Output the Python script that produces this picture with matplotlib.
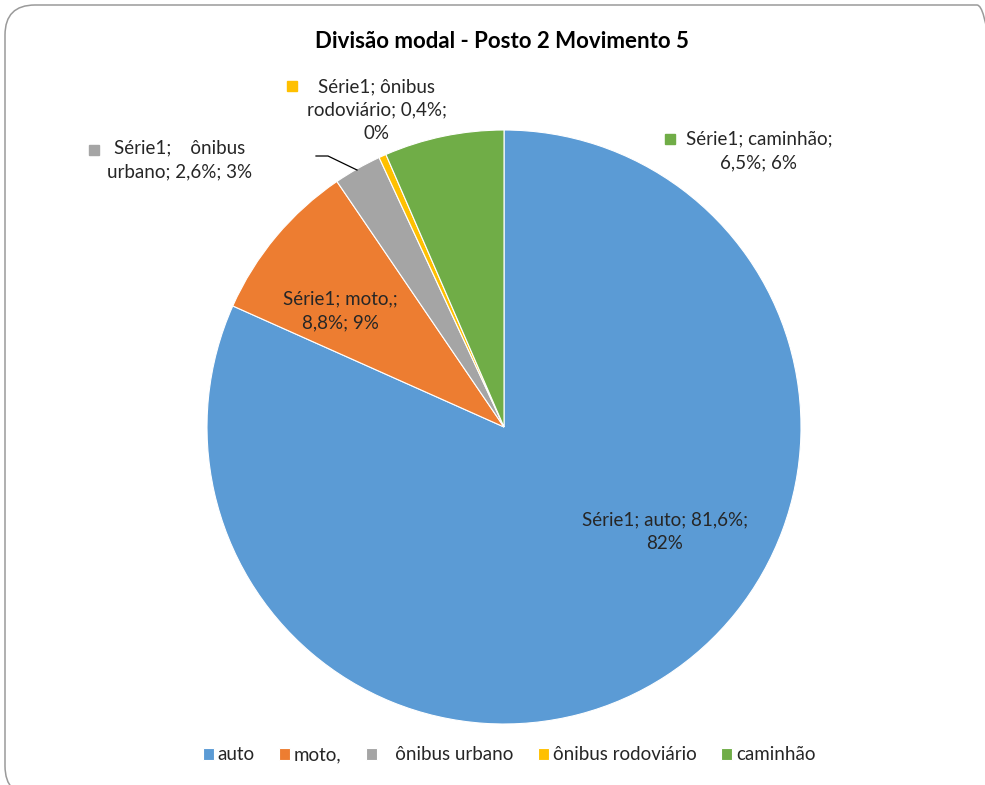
import matplotlib
matplotlib.use("Agg")
import matplotlib.pyplot as plt
from matplotlib.patches import FancyBboxPatch
from matplotlib.lines import Line2D
from matplotlib.transforms import IdentityTransform

plt.rcParams['font.family'] = ['Lato', 'DejaVu Sans']

title = "Divisão modal - Posto 2 Movimento 5"
categories = ['auto', 'moto,', '   ônibus urbano', 'ônibus rodoviário', 'caminhão']
values = [81.6, 8.8, 2.6, 0.4, 6.5]
colors = ['#5B9BD5', '#ED7D31', '#A5A5A5', '#FFC000', '#70AD47']
data_labels = [
    "Série1; auto; 81,6%;\n82%",
    "Série1; moto,;\n8,8%; 9%",
    "Série1;    ônibus\nurbano; 2,6%; 3%",
    "Série1; ônibus\nrodoviário; 0,4%;\n0%",
    "Série1; caminhão;\n6,5%; 6%",
]

W, H = 985, 785
fig = plt.figure(figsize=(W / 100, H / 100), dpi=100)
fig.patch.set_facecolor('white')

def fx(px):
    return px / W

def fy(py):
    return 1 - py / H

# chart frame
frame = FancyBboxPatch((5, H - 796), 1002, 791,
                       boxstyle="round,pad=0,rounding_size=30",
                       transform=IdentityTransform(), facecolor='none',
                       edgecolor='#9A9A9A', linewidth=1.1, clip_on=False)
fig.patches.append(frame)

cx, cy, r = 504, 427, 297
ax = fig.add_axes([fx(cx - r), fy(cy + r), 2 * r / W, 2 * r / H])
wedges, _ = ax.pie(values, colors=colors, startangle=90, counterclock=False,
                   radius=1.0, wedgeprops=dict(edgecolor='white', linewidth=0.8))
ax.set_xlim(-1, 1)
ax.set_ylim(-1, 1)
ax.set_aspect('auto')
ax.axis('off')

fig.text(fx(502), fy(42), title, ha='center', va='center',
         fontsize=16, fontweight='bold', color='black')

fs = 13.5
# label positions (px), key square positions
label_pos = [(665, 532), (340, 311), (180, 160), (377, 110), (759, 151)]
key_pos = [None, None, (94, 150), (292, 86), (670, 139)]
for lab, (px, py), kp, col in zip(data_labels, label_pos, key_pos, colors):
    fig.text(fx(px), fy(py), lab, ha='center', va='center', ma='center',
             fontsize=fs, color='#262626', linespacing=1.45)
    if kp is not None:
        fig.add_artist(Line2D([fx(kp[0])], [fy(kp[1])], marker='s', markersize=7.5,
                              color=col, linestyle='none', transform=fig.transFigure))

# leader line for ônibus urbano
fig.add_artist(Line2D([fx(316), fx(328), fx(357)], [fy(156), fy(156), fy(170)],
                      color='black', linewidth=0.9, transform=fig.transFigure))

leg = fig.legend(wedges, categories, loc='center', bbox_to_anchor=(fx(509), fy(755)),
                 ncol=5, frameon=False, fontsize=fs, handlelength=0.6, handleheight=0.6,
                 handletextpad=0.2, columnspacing=1.3, labelcolor='#262626')

fig.savefig('out.png', dpi=100, facecolor='white')
